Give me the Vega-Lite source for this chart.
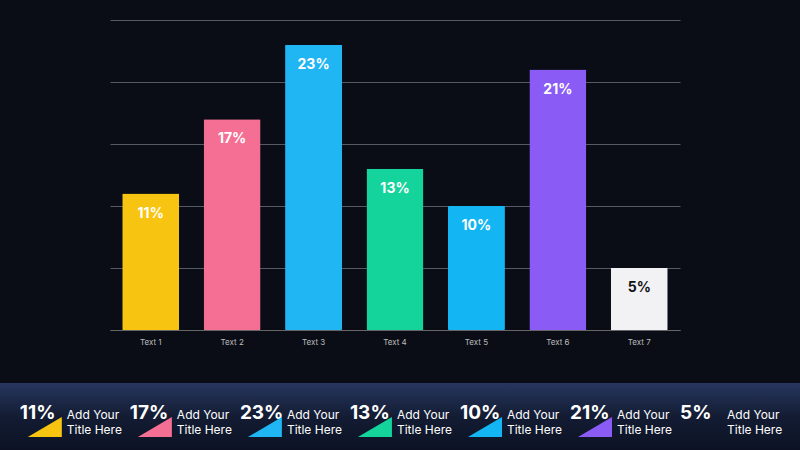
{
  "$schema": "https://vega.github.io/schema/vega-lite/v6.json",
  "background": "#0a0d16",
  "padding": {"top": 20, "left": 0, "right": 0, "bottom": 0},
  "spacing": 37,
  "config": {"font": "Inter", "view": {"stroke": null}},
  "datasets": {
    "bars": [
      {"i": 0, "name": "Text 1", "value": 11, "label": "11%"},
      {"i": 1, "name": "Text 2", "value": 17, "label": "17%"},
      {"i": 2, "name": "Text 3", "value": 23, "label": "23%"},
      {"i": 3, "name": "Text 4", "value": 13, "label": "13%"},
      {"i": 4, "name": "Text 5", "value": 10, "label": "10%"},
      {"i": 5, "name": "Text 6", "value": 21, "label": "21%"},
      {"i": 6, "name": "Text 7", "value": 5, "label": "5%"}
    ]
  },
  "vconcat": [
    {
      "width": 800,
      "height": 310,
      "data": {"name": "bars"},
      "encoding": {
        "x": {
          "field": "name", "type": "nominal", "sort": null,
          "scale": {"paddingInner": 0.3, "paddingOuter": 0.15, "range": [110, 680]},
          "axis": {"title": null, "labelAngle": 0, "labelColor": "#bbbbbb", "labelFontSize": 8, "domainColor": "#666666", "ticks": false, "labelPadding": 8}
        },
        "y": {
          "field": "value", "type": "quantitative",
          "scale": {"domain": [0, 25]},
          "axis": {"title": null, "labels": false, "ticks": false, "domain": false, "tickCount": 5, "gridColor": "#555a66", "gridWidth": 1}
        }
      },
      "layer": [
        {
          "mark": {"type": "bar", "cornerRadius": 1},
          "encoding": {
            "color": {
              "field": "name", "type": "nominal", "legend": null,
              "scale": {"domain": ["Text 1", "Text 2", "Text 3", "Text 4", "Text 5", "Text 6", "Text 7"],
                        "range": ["#f7c511", "#f56e93", "#1fb6f3", "#14d39b", "#13b5f2", "#8a5cf5", "#f2f2f4"]}
            }
          }
        },
        {
          "mark": {"type": "text", "dy": 20, "fontSize": 14, "fontWeight": "bold"},
          "encoding": {
            "text": {"field": "label"},
            "color": {"condition": {"test": "datum.value < 6", "value": "#111111"}, "value": "#ffffff"}
          }
        }
      ]
    },
    {
      "width": 800,
      "height": 67,
      "view": {
        "stroke": null,
        "fill": {"gradient": "linear", "x1": 0, "y1": 0, "x2": 0, "y2": 1,
                 "stops": [{"offset": 0, "color": "#26365e"}, {"offset": 0.5, "color": "#131c33"}, {"offset": 1, "color": "#0c1224"}]}
      },
      "data": {"name": "bars"},
      "encoding": {
        "x": {"field": "i", "type": "quantitative", "scale": {"domain": [-0.18, 7.09]}, "axis": null}
      },
      "layer": [
        {
          "mark": {"type": "text", "align": "left", "fontSize": 19, "fontWeight": "bold", "color": "#ffffff", "y": 30},
          "encoding": {"text": {"field": "label"}}
        },
        {
          "transform": [{"filter": "datum.value > 6"}],
          "mark": {"type": "point", "shape": "M 1.6 1.8 L 8.4 1.8 L 8.4 -2.2 Z", "filled": true, "opacity": 1, "size": 100, "y": 45},
          "encoding": {
            "color": {
              "field": "name", "type": "nominal", "legend": null,
              "scale": {"domain": ["Text 1", "Text 2", "Text 3", "Text 4", "Text 5", "Text 6", "Text 7"],
                        "range": ["#f7c511", "#f56e93", "#1fb6f3", "#14d39b", "#13b5f2", "#8a5cf5", "#f2f2f4"]}
            }
          }
        },
        {
          "mark": {"type": "text", "align": "left", "fontSize": 12, "color": "#ffffff", "y": 32, "dx": 47, "text": "Add Your"}
        },
        {
          "mark": {"type": "text", "align": "left", "fontSize": 12, "color": "#ffffff", "y": 47, "dx": 47, "text": "Title Here"}
        }
      ]
    }
  ]
}
